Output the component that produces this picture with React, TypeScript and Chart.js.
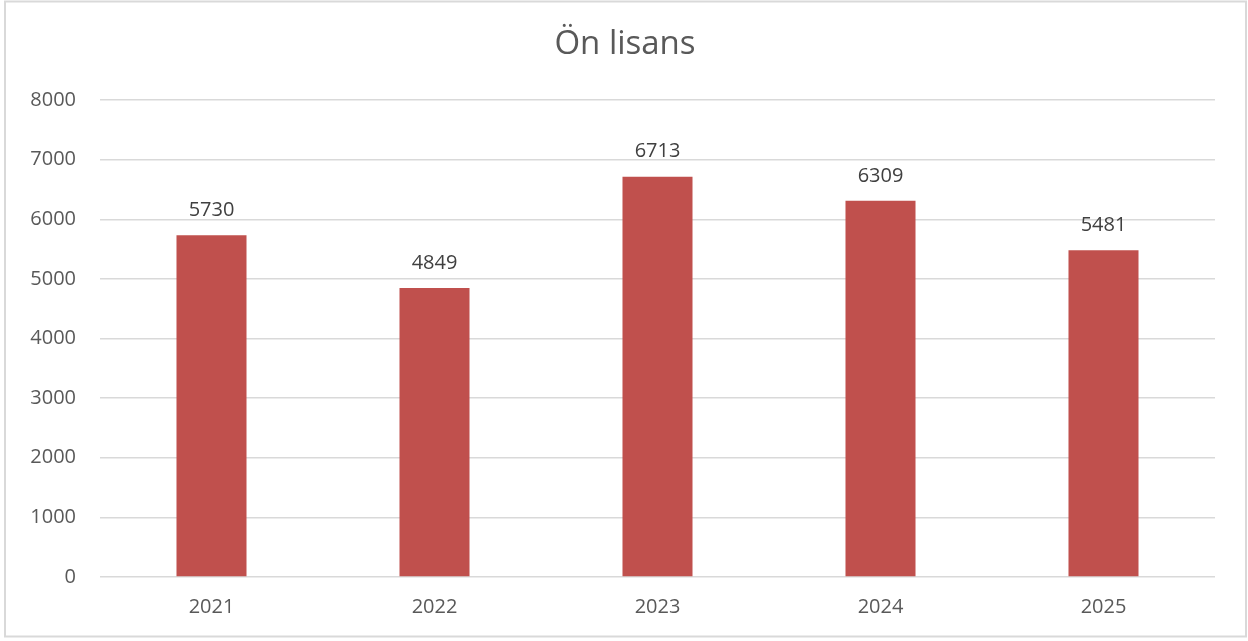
import React, { useEffect, useRef } from "react";
import { Chart, registerables } from "chart.js";

Chart.register(...registerables);

const categories = ["2021", "2022", "2023", "2024", "2025"];
const values = [5730, 4849, 6713, 6309, 5481];
const yTicks = [0, 1000, 2000, 3000, 4000, 5000, 6000, 7000, 8000];
const title = "Ön lisans";

const FONT = "'Open Sans', 'Noto Sans', sans-serif";

const frame = {
  id: "frame",
  beforeDraw(chart: any) {
    const { ctx, width, height } = chart;
    ctx.save();
    ctx.fillStyle = "#ffffff";
    ctx.fillRect(0, 0, width, height);
    ctx.strokeStyle = "#d9d9d9";
    ctx.lineWidth = 2;
    ctx.strokeRect(5, 1.5, 1241, 635);
    ctx.fillStyle = "#595959";
    ctx.font = `33px ${FONT}`;
    ctx.textAlign = "center";
    ctx.textBaseline = "middle";
    ctx.fillText(title, width / 2 + 1, 45);
    ctx.restore();
  },
};

const dataLabels = {
  id: "dataLabels",
  afterDatasetsDraw(chart: any) {
    const { ctx } = chart;
    const meta = chart.getDatasetMeta(0);
    ctx.save();
    ctx.font = `20px ${FONT}`;
    ctx.fillStyle = "#404040";
    ctx.textAlign = "center";
    ctx.textBaseline = "middle";
    meta.data.forEach((bar: any, i: number) => {
      ctx.fillText(String(values[i]), bar.x, bar.y - 25);
    });
    ctx.restore();
  },
};

export default function App() {
  const ref = useRef<HTMLCanvasElement>(null);
  useEffect(() => {
    document.body.style.margin = "0";
    const chart = new Chart(ref.current!, {
      type: "bar",
      data: {
        labels: categories,
        datasets: [
          {
            data: values,
            backgroundColor: "#c0504d",
            barPercentage: 0.314,
            categoryPercentage: 1,
          },
        ],
      },
      options: {
        animation: false,
        responsive: false,
        layout: { padding: { top: 100, right: 33, bottom: 4, left: 0 } },
        plugins: {
          legend: { display: false },
          tooltip: { enabled: false },
          title: { display: false },
        },
        scales: {
          x: {
            grid: { display: false, drawTicks: false },
            border: { display: false },
            ticks: {
              color: "#595959",
              font: { family: FONT, size: 20 },
              padding: 18,
            },
          },
          y: {
            min: 0,
            max: 8000,
            afterFit(scale: any) {
              scale.width = 100;
            },
            afterBuildTicks(scale: any) {
              scale.ticks = yTicks.map((v) => ({ value: v }));
            },
            grid: { color: "#d9d9d9", lineWidth: 1.5, drawTicks: false },
            border: { display: false },
            ticks: {
              color: "#595959",
              font: { family: FONT, size: 20 },
              padding: 24,
              callback: (v: any) => String(v),
            },
          },
        },
      },
      plugins: [frame, dataLabels],
    });
    return () => chart.destroy();
  }, []);
  return <canvas ref={ref} width={1248} height={641} style={{ display: "block" }} />;
}
